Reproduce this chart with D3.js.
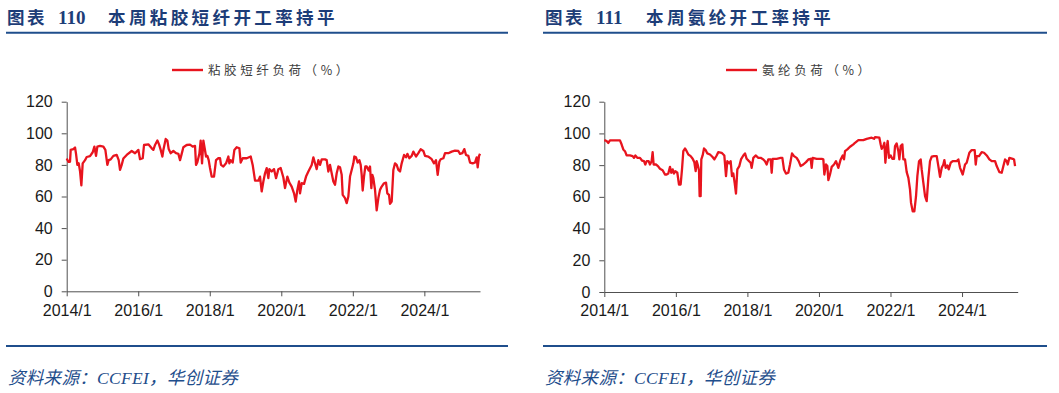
<!DOCTYPE html>
<html><head><meta charset="utf-8">
<script src="https://cdn.jsdelivr.net/npm/d3@7"></script>
<style>
html,body{margin:0;padding:0;background:#fff;}
svg{display:block;}
</style></head>
<body>
<svg id="c" width="1059" height="393"></svg>
<script>
// ---------- DATA ----------
const yTicks = [0, 20, 40, 60, 80, 100, 120];
const xTicks = [2014, 2016, 2018, 2020, 2022, 2024];
const xTickLabels = ["2014/1", "2016/1", "2018/1", "2020/1", "2022/1", "2024/1"];
const xDomain = [2014, 2025.556];

const titles = ["本周粘胶短纤开工率持平", "本周氨纶开工率持平"];
const figNums = ["110", "111"];
const seriesNames = ["粘胶短纤负荷（%）", "氨纶负荷（%）"];
const sourceText = "资料来源：CCFEI，华创证券";

// Viscose staple fibre load (%), dates as decimal years
const viscoseT = [2014.000,2014.047,2014.093,2014.112,2014.186,2014.233,2014.261,2014.298,2014.336,2014.373,2014.410,2014.447,2014.513,2014.559,2014.652,2014.727,2014.774,2014.820,2014.857,2014.932,
2015.025,2015.081,2015.137,2015.174,2015.230,2015.305,2015.398,2015.454,2015.491,2015.538,2015.584,2015.678,2015.817,2015.911,
2016.004,2016.050,2016.125,2016.162,2016.283,2016.377,2016.423,2016.470,2016.535,2016.582,2016.628,2016.675,2016.703,2016.768,2016.815,2016.852,2016.908,2016.982,
2017.057,2017.122,2017.169,2017.215,2017.262,2017.355,2017.448,2017.523,2017.588,2017.616,2017.653,2017.709,2017.746,2017.784,2017.821,2017.858,2017.896,2017.933,2017.970,
2018.007,2018.054,2018.119,2018.175,2018.240,2018.287,2018.315,2018.380,2018.455,2018.520,2018.548,2018.585,2018.641,2018.688,2018.753,2018.828,2018.865,2018.921,
2019.033,2019.145,2019.200,2019.266,2019.359,2019.405,2019.452,2019.499,2019.545,2019.592,2019.638,2019.666,2019.732,2019.797,2019.853,2019.918,2019.983,
2020.058,2020.104,2020.170,2020.226,2020.291,2020.356,2020.403,2020.449,2020.496,2020.524,2020.570,2020.636,2020.692,2020.757,2020.850,2020.897,2020.943,2020.990,
2021.036,2021.083,2021.130,2021.223,2021.269,2021.316,2021.363,2021.409,2021.456,2021.502,2021.549,2021.596,2021.642,2021.689,2021.717,2021.782,2021.828,2021.875,2021.922,2021.968,
2022.015,2022.043,2022.089,2022.136,2022.183,2022.220,2022.248,2022.276,2022.313,2022.350,2022.388,2022.443,2022.481,2022.518,2022.546,2022.574,2022.621,2022.667,2022.714,2022.760,2022.807,2022.872,2022.928,2022.965,
2023.012,2023.040,2023.087,2023.133,2023.180,2023.226,2023.273,2023.320,2023.366,2023.432,2023.488,2023.525,2023.581,2023.646,2023.692,2023.767,2023.832,2023.897,2023.972,
2024.019,2024.112,2024.205,2024.270,2024.326,2024.373,2024.419,2024.457,2024.531,2024.578,2024.671,2024.764,2024.857,2024.951,2024.997,
2025.062,2025.118,2025.165,2025.230,2025.277,2025.352,2025.417,2025.463,2025.491,2025.529,2025.556];
const viscoseV = [84,82,82,89.5,90,91,87,80,81,76,67,81,83,85,85.5,88,91.6,85.7,91.6,92,
91.6,89.5,80,83,83.5,85.7,86.3,83,76.8,80,84,86.3,88.8,87.4,
89.5,83.6,84.2,92.6,93,90.5,89.5,92.6,95.4,93,89.5,85.3,89.5,96.4,95.4,90,87.4,88.8,
87.4,87,83,87,91.2,92.6,92.8,91.6,92,80,81.7,87,95.4,81,95.4,90.5,85.3,85.7,83,
78,72.6,72.6,83,84.2,84.2,80,79,81,85.3,81,83,81.5,89.5,91.2,90.5,81.5,84.2,
84.2,85.3,80,70,70,72.6,63.2,69.5,74.7,78,71.6,77.3,75.8,77.3,71.6,77.3,78,
72,65.3,72.6,68.8,66.3,62,56.8,64.2,69.5,62,68.4,68,72.6,75.8,80,84.8,81,77.3,
83,80,83.5,83.5,83,75.8,80,74.7,69.5,67.4,74.7,79,78.5,73.7,61,59,55.8,60,72.6,76.8,
81,85.3,84.8,81.5,83,80,73.7,63.8,72.6,79,79,76.4,79,65.3,73.7,71.6,64.2,51.2,59,64.2,66.3,68.4,68.8,62,
61,55.4,56.8,76.8,81,80,76.8,75.8,81,86.3,84.8,87,84.2,85.7,88.4,85.3,87.4,89.9,88.8,
85.7,85.3,83.6,81,83,73.7,82,83.6,84.2,87.4,87.4,88.4,89,88.8,87,
87.4,90,86.3,85.7,81.5,81,81.5,84.8,78.5,85.7,87];

// Spandex load (%), dates as decimal years
const spandexT = [2014.000,2014.065,2014.112,2014.158,2014.438,2014.485,2014.531,2014.578,2014.624,2014.718,2014.792,2014.829,2014.867,2014.923,2014.997,
2015.053,2015.109,2015.146,2015.184,2015.240,2015.277,2015.323,2015.351,2015.379,2015.445,2015.500,2015.556,2015.631,2015.696,2015.743,2015.789,2015.836,2015.873,2015.911,2015.948,2015.985,
2016.041,2016.088,2016.134,2016.172,2016.209,2016.255,2016.302,2016.349,2016.414,2016.470,2016.516,2016.554,2016.582,2016.610,2016.647,2016.665,2016.693,2016.712,2016.749,2016.787,2016.833,2016.880,2016.954,
2017.020,2017.076,2017.141,2017.187,2017.281,2017.355,2017.402,2017.439,2017.495,2017.532,2017.569,2017.607,2017.644,2017.681,2017.719,2017.775,2017.821,2017.886,2017.933,2017.980,
2018.045,2018.091,2018.119,2018.166,2018.231,2018.306,2018.371,2018.446,2018.492,2018.539,2018.585,2018.651,2018.679,2018.707,2018.818,2018.930,2018.977,
2019.023,2019.079,2019.144,2019.191,2019.247,2019.303,2019.377,2019.433,2019.489,2019.563,2019.638,2019.704,2019.769,2019.797,2019.825,2019.937,
2020.076,2020.123,2020.151,2020.198,2020.235,2020.263,2020.309,2020.356,2020.421,2020.477,2020.542,2020.608,2020.664,2020.701,2020.729,2020.794,2020.869,2020.962,
2021.008,2021.102,2021.241,2021.335,2021.474,2021.540,2021.568,2021.689,2021.726,2021.754,2021.801,2021.829,2021.857,2021.894,2021.922,2021.959,
2022.006,2022.052,2022.099,2022.127,2022.173,2022.220,2022.248,2022.285,2022.332,2022.360,2022.406,2022.453,2022.500,2022.546,2022.574,2022.621,2022.667,2022.714,2022.751,2022.798,2022.844,2022.872,2022.919,2022.966,
2023.012,2023.059,2023.105,2023.152,2023.217,2023.292,2023.338,2023.385,2023.432,2023.478,2023.506,2023.543,2023.590,2023.627,2023.683,2023.739,2023.851,2023.898,2023.944,
2024.019,2024.084,2024.130,2024.205,2024.270,2024.354,2024.382,2024.410,2024.475,2024.550,2024.615,2024.690,2024.764,2024.830,2024.923,2024.969,
2025.044,2025.109,2025.156,2025.202,2025.249,2025.277,2025.323,2025.417,2025.454,2025.482];
const spandexV = [95.8,95.2,94,95.6,95.6,93,89.9,88.8,86.1,86.1,85.7,84.6,86.1,84.6,84.6,
82.9,82.5,80.4,82.5,82.5,80.4,82.5,88.2,80.4,80.4,79.4,77.7,76.8,74.1,74.1,74.7,78.9,75.2,77.3,74.7,76.2,
75.2,67.8,67.8,77.3,88.8,90.5,88.8,86.7,85.7,84,81.9,76.2,82.5,80.4,76.8,60.4,60.4,83.6,86.1,90.5,89.5,87.4,86.7,
85.3,83.6,86.1,88.2,87.8,86.1,73.1,82.5,81.1,82.5,73.1,74.7,68.8,62.1,77.3,79.4,83.6,86.1,87.4,84,
82.5,81.5,78.3,84.6,86.1,84.6,84.6,83.6,82.5,80.4,83.6,83.6,75.2,84,84,84.6,84.6,
77.3,74.7,75.2,80.4,87.4,85.7,84.6,82.5,79.4,80.4,81.9,83.6,84,78.3,84.6,84,
84,83.6,74.1,80.4,79.4,70.5,74.1,78.9,80.4,82.5,78.3,83.6,86.1,83.6,88.8,89.9,91.6,93.1,
94.1,95.8,95.8,96.6,97.3,96.6,97.7,97.3,93,90.3,92,94.1,81.5,90.9,95.2,84.6,
86.1,84,84,92,93.7,88.8,83.6,92,93.1,83.6,83.6,75.6,72,64.6,56.2,50.9,50.9,60.4,73.1,82.5,83.6,77.3,68.8,60.4,
57.3,72,82.5,85.3,85.7,85.7,79.4,72.6,78.3,80.4,83.2,78.3,79.8,77.3,81.5,82.5,82.5,83.6,78.3,
74.1,80.4,81.5,87.8,89.5,89.5,80.4,85.7,85.7,88.2,87.8,86.1,83.6,82.5,82.5,79.4,
75.6,75.2,79.4,83.6,82.5,80.4,84.6,84,83.6,79.4];

// ---------- DRAWING ----------
const svg = d3.select("#c");
svg.append("rect").attr("width", 1059).attr("height", 393).attr("fill", "#fff");

const TITLE_BLUE = "#1d3d78";
const LINE_BLUE = "#1f4e8c";
const RED = "#e8141e";

const panels = [
  {x0: 6, x1: 508, titleX: 7, plotL: 66.7, plotR: 480, plotT: 101.7, plotB: 291.3,
   legX: 172, T: viscoseT, V: viscoseV},
  {x0: 543, x1: 1047, titleX: 545, plotL: 604.3, plotR: 1017.7, plotT: 101.7, plotB: 292,
   legX: 726, T: spandexT, V: spandexV}
];

panels.forEach((p, i) => {
  const g = svg.append("g");
  // title
  const t = g.append("text").attr("x", p.titleX).attr("y", 24)
    .attr("fill", TITLE_BLUE).attr("font-weight", "bold")
    .attr("font-family", "'Liberation Serif','Noto Sans CJK SC',serif").attr("font-size", 17.5);
  t.append("tspan").attr("font-family", "'Noto Sans CJK SC',sans-serif").attr("letter-spacing", 2.5).text("图表");
  t.append("tspan").attr("x", p.titleX + 51).attr("font-size", 19).text(figNums[i]);
  t.append("tspan").attr("x", p.titleX + 101).attr("font-family", "'Noto Sans CJK SC',sans-serif")
    .attr("letter-spacing", 3.4).text(titles[i]);

  g.append("line").attr("x1", p.x0).attr("x2", p.x1).attr("y1", 32.7).attr("y2", 32.7)
    .attr("stroke", LINE_BLUE).attr("stroke-width", 2);
  g.append("line").attr("x1", p.x0).attr("x2", p.x1).attr("y1", 346).attr("y2", 346)
    .attr("stroke", LINE_BLUE).attr("stroke-width", 2);

  g.append("text").attr("x", p.x0 + 2).attr("y", 384)
    .attr("fill", LINE_BLUE).attr("font-style", "italic")
    .attr("font-family", "'Liberation Serif','Noto Sans CJK SC',serif").attr("font-size", 17.5)
    .attr("letter-spacing", 0.3)
    .text(sourceText);

  // legend
  g.append("line").attr("x1", p.legX).attr("x2", p.legX + 31).attr("y1", 70).attr("y2", 70)
    .attr("stroke", RED).attr("stroke-width", 2.4);
  g.append("text").attr("x", p.legX + 36).attr("y", 74.5)
    .attr("fill", "#404040").attr("font-family", "'Noto Sans CJK SC',sans-serif")
    .attr("font-size", 12.5).attr("letter-spacing", 3.6).text(seriesNames[i]);

  // scales
  const x = d3.scaleLinear().domain(xDomain).range([p.plotL, p.plotR]);
  const y = d3.scaleLinear().domain([0, 120]).range([p.plotB, p.plotT]);

  const xa = g.append("g").attr("transform", `translate(0,${p.plotB})`)
    .call(d3.axisBottom(x).tickValues(xTicks).tickFormat((d, k) => xTickLabels[k])
      .tickSize(5).tickPadding(8).tickSizeOuter(0));
  const ya = g.append("g").attr("transform", `translate(${p.plotL},0)`)
    .call(d3.axisLeft(y).tickValues(yTicks).tickSize(5).tickPadding(9).tickSizeOuter(0));
  [xa, ya].forEach(a => {
    a.selectAll("path,line").attr("stroke", "#505050");
    a.selectAll("text").attr("fill", "#1a1a1a").attr("font-size", 16)
      .attr("font-family", "'Liberation Sans',Arial,sans-serif");
  });

  const data = p.T.map((tt, k) => [tt, p.V[k]]);
  g.append("path").datum(data)
    .attr("fill", "none").attr("stroke", RED).attr("stroke-width", 2.3)
    .attr("stroke-linejoin", "round")
    .attr("d", d3.line().x(d => x(d[0])).y(d => y(d[1])));
});
</script>
</body></html>
